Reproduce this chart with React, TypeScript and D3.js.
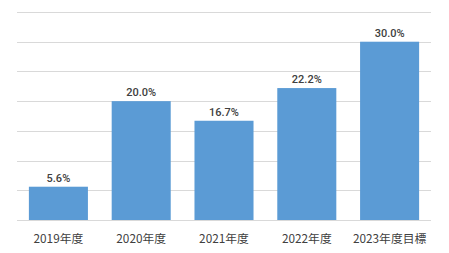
import React from "react";
import * as d3 from "d3";

const categories = ["2019年度", "2020年度", "2021年度", "2022年度", "2023年度目標"];
const values = [5.6, 20.0, 16.7, 22.2, 30.0];
const gridTicks = [0, 5, 10, 15, 20, 25, 30, 35];

const W = 449;
const H = 253;
const margin = { left: 17, right: 18, top: 12, bottom: 33 };

export default function App() {
  const x = d3
    .scaleBand<string>()
    .domain(categories)
    .range([margin.left, W - margin.right])
    .paddingInner(0.287)
    .paddingOuter(0.1435);
  const y = d3
    .scaleLinear()
    .domain([0, 35])
    .range([H - margin.bottom, margin.top]);

  return (
    <svg
      width={W}
      height={H}
      style={{ position: "absolute", left: 0, top: 0, background: "#fff" }}
    >
      {gridTicks.map((t) => (
        <line
          key={t}
          x1={margin.left}
          x2={W - margin.right}
          y1={Math.round(y(t)) + 0.5}
          y2={Math.round(y(t)) + 0.5}
          stroke="#D9D9D9"
          strokeWidth={1}
        />
      ))}
      {categories.map((c, i) => (
        <g key={c}>
          <rect
            x={x(c)}
            y={y(values[i])}
            width={x.bandwidth()}
            height={y(0) - y(values[i])}
            fill="#5B9BD5"
          />
          <text
            x={(x(c) as number) + x.bandwidth() / 2}
            y={y(values[i]) - 5}
            textAnchor="middle"
            fontFamily="Roboto, 'Liberation Sans', sans-serif"
            fontSize={11}
            fontWeight={500}
            fill="#404040"
          >
            {values[i].toFixed(1)}%
          </text>
          <text
            x={(x(c) as number) + x.bandwidth() / 2}
            y={242.5}
            textAnchor="middle"
            fontFamily="'Noto Sans CJK JP', Roboto, sans-serif"
            fontSize={11.8}
            fill="#404040"
          >
            {c}
          </text>
        </g>
      ))}
    </svg>
  );
}
